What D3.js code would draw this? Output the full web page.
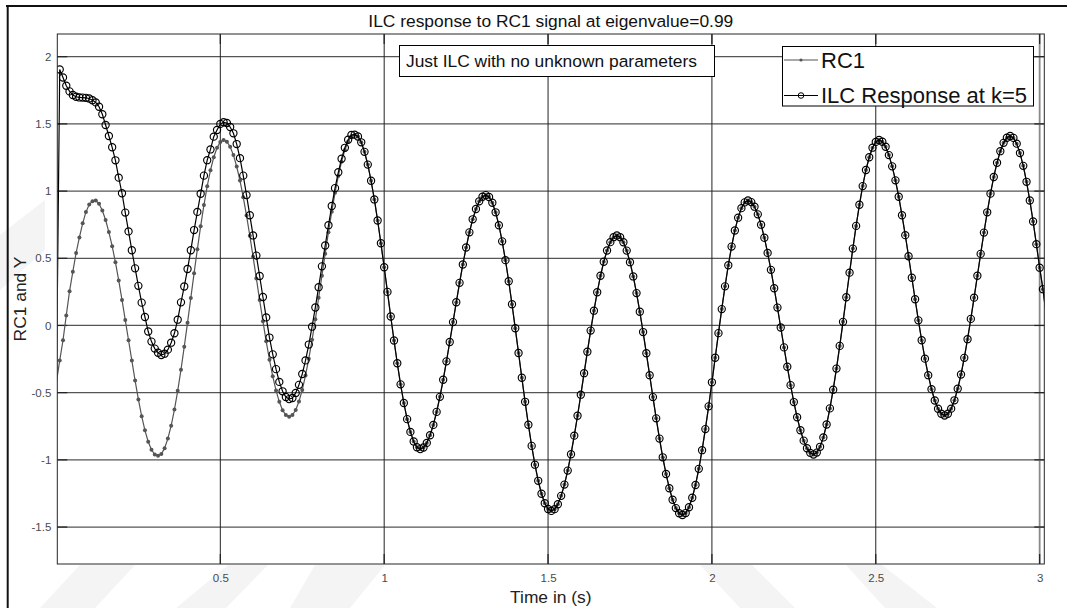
<!DOCTYPE html>
<html>
<head>
<meta charset="utf-8">
<script src="https://cdn.jsdelivr.net/npm/d3@7.9.0/dist/d3.min.js"></script>
<style>
  body { margin: 0; background: #fff; }
  svg { display: block; font-family: "Liberation Sans", Arial, Helvetica, sans-serif; }
</style>
</head>
<body>
<svg id="chart" width="1067" height="608"></svg>
<script>
// sample clock of the simulation (s)
const dt = 0.01;

// RC1 reference, one value per sample from t = 0 to 3.02 s
const rc1 = [
  -0.42, -0.26, -0.11, 0.075, 0.255, 0.40, 0.54, 0.655, 0.76, 0.845, 0.90,
  0.925, 0.93, 0.905, 0.855, 0.785, 0.695, 0.59, 0.47, 0.335, 0.19,
  0.04, -0.11, -0.26, -0.41, -0.55, -0.675, -0.78, -0.865, -0.925, -0.96,
  -0.97, -0.956, -0.913, -0.842, -0.746, -0.626, -0.486, -0.329, -0.158, 0.021,
  0.205, 0.389, 0.568, 0.739, 0.896, 1.036, 1.156, 1.252, 1.323, 1.366,
  1.38, 1.367, 1.33, 1.268, 1.183, 1.078, 0.955, 0.818, 0.668, 0.511,
  0.35, 0.189, 0.032, -0.118, -0.255, -0.378, -0.483, -0.568, -0.63, -0.667,
  -0.68, -0.667, -0.629, -0.566, -0.48, -0.372, -0.247, -0.107, 0.046, 0.206,
  0.37, 0.534, 0.694, 0.847, 0.987, 1.112, 1.219, 1.306, 1.369, 1.407,
  1.42, 1.406, 1.363, 1.292, 1.197, 1.077, 0.938, 0.781, 0.612, 0.433,
  0.25, 0.067, -0.112, -0.281, -0.438, -0.577, -0.697, -0.792, -0.863, -0.906,
  -0.92, -0.908, -0.874, -0.817, -0.74, -0.643, -0.531, -0.404, -0.267, -0.123,
  0.025, 0.173, 0.317, 0.454, 0.58, 0.693, 0.79, 0.867, 0.924, 0.958,
  0.97, 0.956, 0.913, 0.842, 0.746, 0.626, 0.486, 0.329, 0.158, -0.021,
  -0.205, -0.389, -0.568, -0.739, -0.896, -1.036, -1.156, -1.252, -1.323, -1.366,
  -1.38, -1.367, -1.33, -1.268, -1.184, -1.08, -0.958, -0.82, -0.672, -0.515,
  -0.355, -0.195, -0.038, 0.11, 0.247, 0.37, 0.474, 0.558, 0.62, 0.657,
  0.67, 0.657, 0.619, 0.557, 0.471, 0.365, 0.241, 0.102, -0.049, -0.207,
  -0.37, -0.533, -0.691, -0.842, -0.981, -1.105, -1.211, -1.297, -1.359, -1.397,
  -1.41, -1.396, -1.353, -1.282, -1.187, -1.067, -0.928, -0.771, -0.602, -0.423,
  -0.24, -0.057, 0.122, 0.291, 0.448, 0.587, 0.707, 0.802, 0.873, 0.916,
  0.93, 0.918, 0.884, 0.827, 0.75, 0.653, 0.54, 0.414, 0.277, 0.133,
  -0.015, -0.163, -0.307, -0.444, -0.57, -0.683, -0.78, -0.857, -0.914, -0.948,
  -0.96, -0.946, -0.903, -0.833, -0.737, -0.617, -0.478, -0.321, -0.152, 0.027,
  0.21, 0.393, 0.572, 0.741, 0.898, 1.037, 1.157, 1.252, 1.323, 1.366,
  1.38, 1.367, 1.33, 1.268, 1.184, 1.08, 0.958, 0.82, 0.672, 0.515,
  0.355, 0.195, 0.038, -0.11, -0.247, -0.37, -0.474, -0.558, -0.62, -0.657,
  -0.67, -0.657, -0.619, -0.557, -0.471, -0.365, -0.241, -0.102, 0.049, 0.207,
  0.37, 0.533, 0.691, 0.842, 0.981, 1.105, 1.211, 1.297, 1.359, 1.397,
  1.41, 1.396, 1.353, 1.283, 1.188, 1.069, 0.93, 0.774, 0.605, 0.43,
  0.27, 0.08
];

// ILC response for t = 0 .. 0.90 s; after that it sits on top of RC1
const ilcStart = [
  -0.42, 1.905, 1.845, 1.784, 1.742, 1.715, 1.702, 1.697, 1.696, 1.694, 1.689,
  1.676, 1.66, 1.628, 1.572, 1.492, 1.41, 1.326, 1.229, 1.10, 0.984,
  0.84, 0.70, 0.56, 0.425, 0.295, 0.17, 0.063, -0.045, -0.12, -0.172,
  -0.203, -0.22, -0.21, -0.18, -0.128, -0.058, 0.043, 0.172, 0.29, 0.42,
  0.56, 0.71, 0.845, 0.98, 1.115, 1.23, 1.31, 1.405, 1.455, 1.50,
  1.512, 1.507, 1.477, 1.43, 1.35, 1.245, 1.115, 0.97, 0.82, 0.67,
  0.52, 0.368, 0.212, 0.06, -0.09, -0.215, -0.325, -0.42, -0.49, -0.532,
  -0.548, -0.54, -0.502, -0.442, -0.361, -0.26, -0.142, -0.009, 0.134, 0.285,
  0.44, 0.595, 0.746, 0.889, 1.022, 1.14, 1.241, 1.322, 1.382, 1.418
];
const ilc = ilcStart.concat(rc1.slice(ilcStart.length));

const xTicks = [0.5, 1, 1.5, 2, 2.5, 3];
const yTicks = [-1.5, -1, -0.5, 0, 0.5, 1, 1.5, 2];
const seriesNames = ['RC1', 'ILC Response at k=5'];
const titleText = 'ILC response to RC1 signal at eigenvalue=0.99';
const noteText = 'Just ILC with no unknown parameters';

const svg = d3.select('#chart');
const plot = { left: 57.3, top: 34, right: 1044.3, bottom: 564 };

const x = d3.scaleLinear().domain([0.0026, 3.0142]).range([plot.left, plot.right]);
const y = d3.scaleLinear().domain([-1.775, 2.169]).range([plot.bottom, plot.top]);

const toPoints = vals => vals.map((v, i) => ({ t: i * dt, v }));
const rcPts = toPoints(rc1);
const ilcPts = toPoints(ilc);
const inside = d => d.t >= x.domain()[0] && d.t <= x.domain()[1];

// faint watermark stripes behind the figure
const stripes = [
  [[80, 565], [135, 565], [95, 608], [40, 608]],
  [[228, 565], [268, 565], [226, 608], [176, 608]],
  [[315, 565], [385, 565], [350, 608], [290, 608]],
  [[700, 565], [752, 565], [795, 608], [740, 608]],
  [[846, 565], [882, 565], [937, 608], [885, 608]],
  [[0, 235], [45, 200], [45, 250], [0, 290]]
];
svg.append('g').selectAll('path').data(stripes).join('path')
  .attr('d', d => 'M' + d.join('L') + 'Z')
  .attr('fill', '#f4f4f4');

// figure frame (top and left edges visible)
svg.append('line').attr('x1', 6).attr('x2', 1067).attr('y1', 6).attr('y2', 6)
  .attr('stroke', '#111').attr('stroke-width', 2);
svg.append('line').attr('x1', 7.7).attr('x2', 7.7).attr('y1', 5).attr('y2', 608)
  .attr('stroke', '#111').attr('stroke-width', 2);

svg.append('rect')
  .attr('x', plot.left).attr('y', plot.top)
  .attr('width', plot.right - plot.left).attr('height', plot.bottom - plot.top)
  .attr('fill', '#fff');

// grid
svg.append('g')
  .selectAll('line').data(yTicks).join('line')
  .attr('x1', plot.left).attr('x2', plot.right)
  .attr('y1', d => y(d)).attr('y2', d => y(d))
  .attr('stroke', '#555').attr('stroke-width', 1.3);
svg.append('g')
  .selectAll('line').data(xTicks).join('line')
  .attr('x1', d => x(d)).attr('x2', d => x(d))
  .attr('y1', plot.top).attr('y2', plot.bottom)
  .attr('stroke', d => d === 3 ? '#8a8a8a' : '#222')
  .attr('stroke-width', d => d === 3 ? 1.8 : 1);

// inner tick marks
const tickLen = 10;
const ticks = svg.append('g').attr('stroke', '#222').attr('stroke-width', 1.2);
ticks.selectAll('.yl').data(yTicks).join('line').attr('class', 'yl')
  .attr('x1', plot.left).attr('x2', plot.left + tickLen)
  .attr('y1', d => y(d)).attr('y2', d => y(d));
ticks.selectAll('.yr').data(yTicks).join('line').attr('class', 'yr')
  .attr('x1', plot.right - tickLen).attr('x2', plot.right)
  .attr('y1', d => y(d)).attr('y2', d => y(d));
ticks.selectAll('.xb').data(xTicks).join('line').attr('class', 'xb')
  .attr('x1', d => x(d)).attr('x2', d => x(d))
  .attr('y1', plot.bottom - tickLen).attr('y2', plot.bottom);
ticks.selectAll('.xt').data(xTicks).join('line').attr('class', 'xt')
  .attr('x1', d => x(d)).attr('x2', d => x(d))
  .attr('y1', plot.top).attr('y2', plot.top + tickLen);

// axes labels through d3 axes (no tick lines, MATLAB style numbers)
const fmt = d => String(d);
const xAxis = svg.append('g')
  .attr('transform', `translate(0,${plot.bottom})`)
  .call(d3.axisBottom(x).tickValues(xTicks).tickSize(0).tickPadding(10).tickFormat(fmt));
const yAxis = svg.append('g')
  .attr('transform', `translate(${plot.left},0)`)
  .call(d3.axisLeft(y).tickValues(yTicks).tickSize(0).tickPadding(6).tickFormat(fmt));
[xAxis, yAxis].forEach(g => {
  g.select('.domain').remove();
  g.selectAll('text')
    .attr('font-family', '"Liberation Sans", Arial, sans-serif')
    .attr('font-size', 11.5)
    .attr('fill', '#4a4a4a');
});

// clip for data
svg.append('clipPath').attr('id', 'clip')
  .append('rect')
  .attr('x', plot.left).attr('y', plot.top)
  .attr('width', plot.right - plot.left).attr('height', plot.bottom - plot.top);

const line = d3.line().x(d => x(d.t)).y(d => y(d.v));
const data = svg.append('g').attr('clip-path', 'url(#clip)');

// RC1: gray line with point markers
data.append('path').datum(rcPts)
  .attr('d', line).attr('fill', 'none')
  .attr('stroke', '#555').attr('stroke-width', 1.2);
data.append('g').selectAll('circle').data(rcPts.filter(inside)).join('circle')
  .attr('cx', d => x(d.t)).attr('cy', d => y(d.v)).attr('r', 2)
  .attr('fill', '#555');

// ILC response: black line with open circles
data.append('path').datum(ilcPts)
  .attr('d', line).attr('fill', 'none')
  .attr('stroke', '#000').attr('stroke-width', 1.2);
data.append('g').selectAll('circle').data(ilcPts.filter(inside)).join('circle')
  .attr('cx', d => x(d.t)).attr('cy', d => y(d.v)).attr('r', 3.6)
  .attr('fill', 'none').attr('stroke', '#000').attr('stroke-width', 1.15);

// axes box
svg.append('rect')
  .attr('x', plot.left).attr('y', plot.top)
  .attr('width', plot.right - plot.left).attr('height', plot.bottom - plot.top)
  .attr('fill', 'none').attr('stroke', '#262626').attr('stroke-width', 1);

// title and axis titles
svg.append('text')
  .attr('x', (plot.left + plot.right) / 2).attr('y', 26.5)
  .attr('text-anchor', 'middle').attr('font-size', 17.4).attr('fill', '#111')
  .text(titleText);
svg.append('text')
  .attr('x', (plot.left + plot.right) / 2).attr('y', 602.5)
  .attr('text-anchor', 'middle').attr('font-size', 17.4).attr('fill', '#222')
  .text('Time in (s)');
svg.append('text')
  .attr('transform', `translate(26,${(plot.top + plot.bottom) / 2}) rotate(-90)`)
  .attr('text-anchor', 'middle').attr('font-size', 17.4).attr('fill', '#222')
  .text('RC1 and Y');

// annotation box
const note = svg.append('g');
note.append('rect')
  .attr('x', 399.5).attr('y', 45.5).attr('width', 315).attr('height', 31)
  .attr('fill', '#fff').attr('stroke', '#000').attr('stroke-width', 1);
note.append('text')
  .attr('x', 406).attr('y', 66.5).attr('font-size', 17.4).attr('fill', '#111')
  .text(noteText);

// legend
const legend = svg.append('g');
legend.append('rect')
  .attr('x', 782.5).attr('y', 46.5).attr('width', 251).attr('height', 59.5)
  .attr('fill', '#fff').attr('stroke', '#000').attr('stroke-width', 1);
const legRows = legend.selectAll('g.row').data(seriesNames).join('g')
  .attr('class', 'row')
  .attr('transform', (d, i) => `translate(0,${i === 0 ? 60 : 95.5})`);
legRows.append('line')
  .attr('x1', 784).attr('x2', 818).attr('y1', 0).attr('y2', 0)
  .attr('stroke', (d, i) => i === 0 ? '#555' : '#000').attr('stroke-width', 1.1);
legRows.each(function (d, i) {
  const g = d3.select(this);
  if (i === 0) {
    g.append('circle').attr('cx', 801).attr('cy', 0).attr('r', 1.6).attr('fill', '#555');
  } else {
    g.append('circle').attr('cx', 801).attr('cy', 0).attr('r', 2.8)
      .attr('fill', 'none').attr('stroke', '#000').attr('stroke-width', 1);
  }
});
legRows.append('text')
  .attr('x', 821).attr('y', 7.6).attr('font-size', 22).attr('fill', '#111')
  .text(d => d);
</script>
</body>
</html>
